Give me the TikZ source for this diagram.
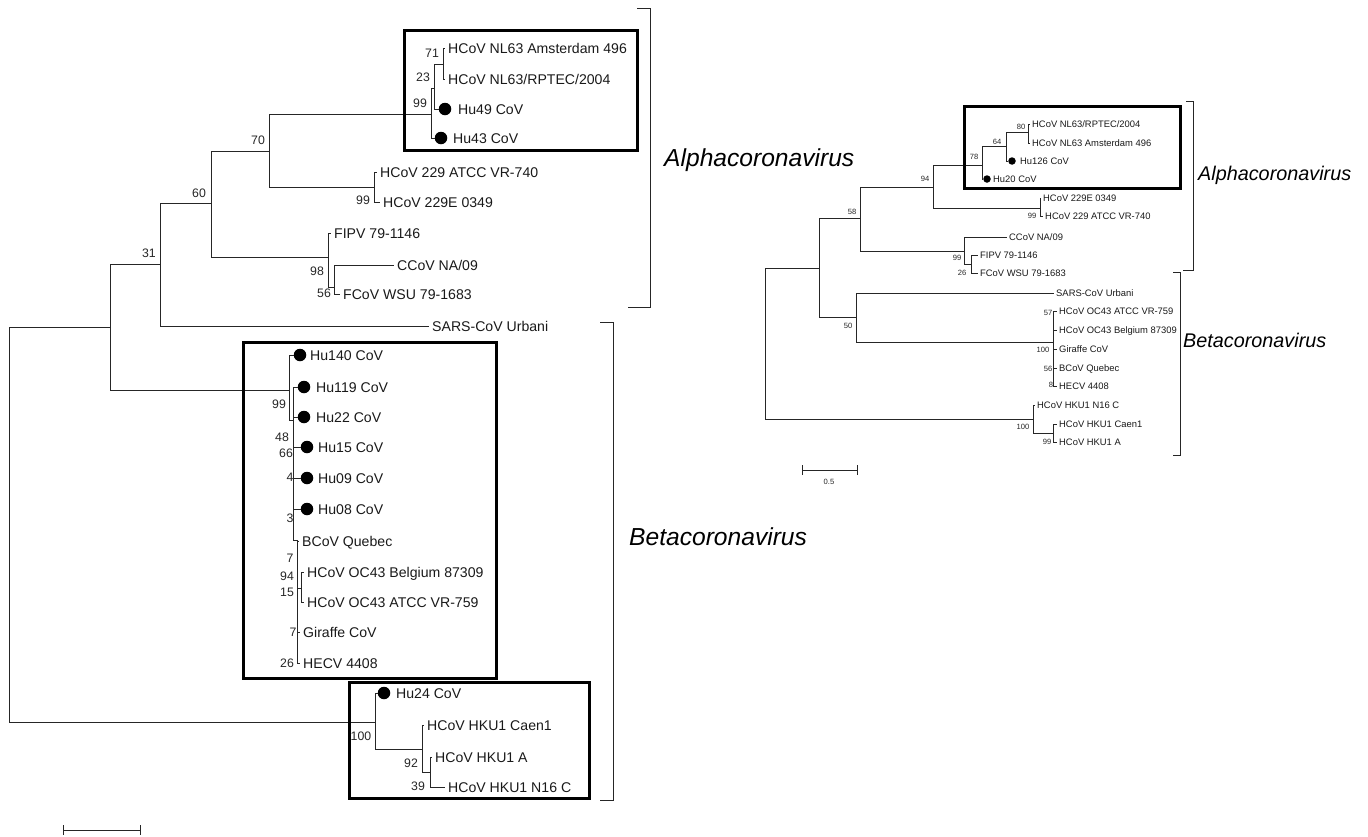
\documentclass[tikz,border=0pt]{standalone}
\usepackage{fontspec}
\setmainfont{Liberation Sans}
\begin{document}
\begin{tikzpicture}[x=1pt,y=-1pt,
  br/.style={line width=1pt, draw=black!85},
  box/.style={line width=3pt, draw=black},
  brk/.style={line width=1pt, draw=black!85},
  lf/.style={anchor=west, inner xsep=3pt, inner ysep=0pt, font=\fontsize{14.1}{16}\selectfont, text height=10.3pt, text depth=0pt, text=black!90},
  dotL/.style={circle, fill=black, inner sep=0pt, minimum size=12.5pt},
  bsL/.style={inner sep=0pt, font=\fontsize{12.3}{14}\selectfont, text height=8.8pt, text depth=0pt, text=black!85},
  lfR/.style={anchor=west, inner xsep=2pt, inner ysep=0pt, font=\fontsize{9.4}{11}\selectfont, text height=6.7pt, text depth=0pt, text=black!90},
  dotR/.style={circle, fill=black, inner sep=0pt, minimum size=7.5pt},
  bsR/.style={inner sep=0pt, font=\fontsize{7.6}{9}\selectfont, text height=5.4pt, text depth=0pt, text=black!85},
  clL/.style={anchor=west, inner sep=0pt, font=\fontsize{24.6}{28}\selectfont\itshape, text height=17.6pt, text depth=0pt},
  clR/.style={anchor=west, inner sep=0pt, font=\fontsize{19.8}{23}\selectfont\itshape, text height=14.2pt, text depth=0pt},
]
\useasboundingbox (0,0) rectangle (1368,836);

% ================= LEFT TREE =================
% internal nodes
\coordinate (R) at (9,524);
\coordinate (N110) at (110,327);
\coordinate (N160) at (160,264);
\coordinate (N211) at (211,203);
\coordinate (N269) at (269,151);
\coordinate (N431) at (431,114);
\coordinate (N434) at (434,88);
\coordinate (N443) at (443,64);
\coordinate (N374) at (374,187);
\coordinate (N328) at (328,257);
\coordinate (N334) at (334,287);
\coordinate (N289) at (289,390);
\coordinate (N293) at (293,420);
\coordinate (N297) at (297,540);
\coordinate (N301) at (301,588);
\coordinate (N375) at (375,722);
\coordinate (N422) at (422,749);
\coordinate (N430) at (430,772);

% leaves
\node[lf] (lAms) at (445,48) {HCoV NL63 Amsterdam 496};
\node[lf] (lRPT) at (445,79) {HCoV NL63/RPTEC/2004};
\node[dotL] (dHu49) at (445,109) {};
\node[lf] (lHu49) at (455,109) {Hu49 CoV};
\node[dotL] (dHu43) at (441,138) {};
\node[lf] (lHu43) at (450,138) {Hu43 CoV};
\node[lf] (l740) at (377,172) {HCoV 229 ATCC VR-740};
\node[lf] (l0349) at (380,202) {HCoV 229E 0349};
\node[lf] (lFIPV) at (331,233) {FIPV 79-1146};
\node[lf] (lCCoV) at (394,265) {CCoV NA/09};
\node[lf] (lFCoV) at (340,294) {FCoV WSU 79-1683};
\node[lf] (lSARS) at (429,326) {SARS-CoV Urbani};
\node[dotL] (dHu140) at (300,355) {};
\node[lf] (lHu140) at (307,355) {Hu140 CoV};
\node[dotL] (dHu119) at (304,387) {};
\node[lf] (lHu119) at (313,387) {Hu119 CoV};
\node[dotL] (dHu22) at (304,417) {};
\node[lf] (lHu22) at (313,417) {Hu22 CoV};
\node[dotL] (dHu15) at (307,447) {};
\node[lf] (lHu15) at (315,447) {Hu15 CoV};
\node[dotL] (dHu09) at (307,478) {};
\node[lf] (lHu09) at (315,478) {Hu09 CoV};
\node[dotL] (dHu08) at (307,509) {};
\node[lf] (lHu08) at (315,509) {Hu08 CoV};
\node[lf] (lBCoV) at (299,541) {BCoV Quebec};
\node[lf] (lBel) at (304,572) {HCoV OC43 Belgium 87309};
\node[lf] (l759) at (304,602) {HCoV OC43 ATCC VR-759};
\node[lf] (lGir) at (300,632) {Giraffe CoV};
\node[lf] (lHECV) at (300,663) {HECV 4408};
\node[dotL] (dHu24) at (384,693) {};
\node[lf] (lHu24) at (393,693) {Hu24 CoV};
\node[lf] (lCaen) at (424,725) {HCoV HKU1 Caen1};
\node[lf] (lHKA) at (432,757) {HCoV HKU1 A};
\node[lf] (lN16) at (445,787) {HCoV HKU1 N16 C};

% branches
\draw[br] (R) |- (N110);
\draw[br] (R) |- (N375);
\draw[br] (N110) |- (N160);
\draw[br] (N110) |- (N289);
\draw[br] (N160) |- (N211);
\draw[br] (N160) |- (lSARS.west);
\draw[br] (N211) |- (N269);
\draw[br] (N211) |- (N328);
\draw[br] (N269) |- (N431);
\draw[br] (N269) |- (N374);
\draw[br] (N431) |- (N434);
\draw[br] (N431) |- (dHu43.west);
\draw[br] (N434) |- (N443);
\draw[br] (N434) |- (dHu49.west);
\draw[br] (N443) |- (lAms.west);
\draw[br] (N443) |- (lRPT.west);
\draw[br] (N374) |- (l740.west);
\draw[br] (N374) |- (l0349.west);
\draw[br] (N328) |- (lFIPV.west);
\draw[br] (N328) |- (N334);
\draw[br] (N334) |- (lCCoV.west);
\draw[br] (N334) |- (lFCoV.west);
\draw[br] (N289) |- (dHu140.west);
\draw[br] (N289) |- (N293);
\draw[br] (N293) |- (dHu119.west);
\draw[br] (N293) |- (dHu22.west);
\draw[br] (N293) |- (dHu15.west);
\draw[br] (N293) |- (dHu09.west);
\draw[br] (N293) |- (dHu08.west);
\draw[br] (N293) |- (N297);
\draw[br] (N297) |- (lBCoV.west);
\draw[br] (N297) |- (N301);
\draw[br] (N297) |- (lGir.west);
\draw[br] (N297) |- (lHECV.west);
\draw[br] (N301) |- (lBel.west);
\draw[br] (N301) |- (l759.west);
\draw[br] (N375) |- (dHu24.west);
\draw[br] (N375) |- (N422);
\draw[br] (N422) |- (lCaen.west);
\draw[br] (N422) |- (N430);
\draw[br] (N430) |- (lHKA.west);
\draw[br] (N430) |- (lN16.west);

% bootstrap values
\node[bsL] (b71) at (432,53) {71};
\node[bsL] (b23) at (423,77) {23};
\node[bsL] (b99a) at (420,103) {99};
\node[bsL] (b70) at (258,140) {70};
\node[bsL] (b60) at (199,193) {60};
\node[bsL] (b31) at (149,253) {31};
\node[bsL] (b99b) at (363,200) {99};
\node[bsL] (b98) at (317,271) {98};
\node[bsL] (b56) at (324,293) {56};
\node[bsL] (b99c) at (279,404) {99};
\node[bsL] (b48) at (282,437) {48};
\node[bsL] (b66) at (286,453) {66};
\node[bsL] (b4) at (290,477) {4};
\node[bsL] (b3) at (290,518) {3};
\node[bsL] (b7a) at (290,558) {7};
\node[bsL] (b94) at (287,576) {94};
\node[bsL] (b15) at (287,592) {15};
\node[bsL] (b7b) at (293,632) {7};
\node[bsL] (b26) at (287,663) {26};
\node[bsL] (b100) at (361,736) {100};
\node[bsL] (b92) at (411,763) {92};
\node[bsL] (b39) at (418,786) {39};

% boxes
\draw[box] (404,30) rectangle (637,150);
\draw[box] (243,342) rectangle (496,678);
\draw[box] (349,682) rectangle (589,798);

% brackets and clade names
\draw[brk] (637,8) -- (650,8) -- (650,307) -- (628,307);
\draw[brk] (600,322) -- (613,322) -- (613,800) -- (600,800);
\node[clL] (cAlphaL) at (664,158) {Alphacoronavirus};
\node[clL] (cBetaL) at (629,537) {Betacoronavirus};

% scale bar
\coordinate (sL1) at (63,830);
\coordinate (sL2) at (140,830);
\draw[br] (sL1) -- (sL2);
\draw[br] (sL1) ++(0,-5) -- ++(0,10);
\draw[br] (sL2) ++(0,-5) -- ++(0,10);

% ================= RIGHT TREE =================
\coordinate (RR) at (765,343);
\coordinate (M819) at (819,268);
\coordinate (M860) at (860,218);
\coordinate (M933) at (933,187);
\coordinate (M982) at (982,165);
\coordinate (M1006) at (1006,146);
\coordinate (M1028) at (1028,132);
\coordinate (M1040) at (1040,208);
\coordinate (M964) at (964,251);
\coordinate (M971) at (971,264);
\coordinate (M856) at (856,317);
\coordinate (M1053) at (1053,342);
\coordinate (M1033) at (1033,419);
\coordinate (M1053b) at (1053,433);

\node[lfR] (rRPT) at (1030,124) {HCoV NL63/RPTEC/2004};
\node[lfR] (rAms) at (1030,143) {HCoV NL63 Amsterdam 496};
\node[dotR] (dHu126) at (1012,161) {};
\node[lfR] (rHu126) at (1018,161) {Hu126 CoV};
\node[dotR] (dHu20) at (987,179) {};
\node[lfR] (rHu20) at (991,179) {Hu20 CoV};
\node[lfR] (r0349) at (1041,198) {HCoV 229E 0349};
\node[lfR] (r740) at (1043,216) {HCoV 229 ATCC VR-740};
\node[lfR] (rCCoV) at (1007,237) {CCoV NA/09};
\node[lfR] (rFIPV) at (978,255) {FIPV 79-1146};
\node[lfR] (rFCoV) at (978,273) {FCoV WSU 79-1683};
\node[lfR] (rSARS) at (1054,293) {SARS-CoV Urbani};
\node[lfR] (r759) at (1057,311) {HCoV OC43 ATCC VR-759};
\node[lfR] (rBel) at (1057,330) {HCoV OC43 Belgium 87309};
\node[lfR] (rGir) at (1057,349) {Giraffe CoV};
\node[lfR] (rBCoV) at (1057,368) {BCoV Quebec};
\node[lfR] (rHECV) at (1057,386) {HECV 4408};
\node[lfR] (rN16) at (1035,405) {HCoV HKU1 N16 C};
\node[lfR] (rCaen) at (1057,424) {HCoV HKU1 Caen1};
\node[lfR] (rHKA) at (1057,442) {HCoV HKU1 A};

\draw[br] (RR) |- (M819);
\draw[br] (RR) |- (M1033);
\draw[br] (M819) |- (M860);
\draw[br] (M819) |- (M856);
\draw[br] (M860) |- (M933);
\draw[br] (M860) |- (M964);
\draw[br] (M933) |- (M982);
\draw[br] (M933) |- (M1040);
\draw[br] (M982) |- (M1006);
\draw[br] (M982) |- (dHu20.west);
\draw[br] (M1006) |- (M1028);
\draw[br] (M1006) |- (dHu126.west);
\draw[br] (M1028) |- (rRPT.west);
\draw[br] (M1028) |- (rAms.west);
\draw[br] (M1040) |- (r0349.west);
\draw[br] (M1040) |- (r740.west);
\draw[br] (M964) |- (rCCoV.west);
\draw[br] (M964) |- (M971);
\draw[br] (M971) |- (rFIPV.west);
\draw[br] (M971) |- (rFCoV.west);
\draw[br] (M856) |- (rSARS.west);
\draw[br] (M856) |- (M1053);
\draw[br] (M1053) |- (r759.west);
\draw[br] (M1053) |- (rBel.west);
\draw[br] (M1053) |- (rGir.west);
\draw[br] (M1053) |- (rBCoV.west);
\draw[br] (M1053) |- (rHECV.west);
\draw[br] (M1033) |- (rN16.west);
\draw[br] (M1033) |- (M1053b);
\draw[br] (M1053b) |- (rCaen.west);
\draw[br] (M1053b) |- (rHKA.west);

\node[bsR] (c80) at (1021,127) {80};
\node[bsR] (c64) at (997,142) {64};
\node[bsR] (c78) at (974,157) {78};
\node[bsR] (c94) at (925,179) {94};
\node[bsR] (c58) at (852,212) {58};
\node[bsR] (c99a) at (1032,216) {99};
\node[bsR] (c99b) at (957,258) {99};
\node[bsR] (c26) at (962,273) {26};
\node[bsR] (c50) at (848,326) {50};
\node[bsR] (c57) at (1048,313) {57};
\node[bsR] (c100a) at (1043,350) {100};
\node[bsR] (c56) at (1048,369) {56};
\node[bsR] (c8) at (1051,385) {8};
\node[bsR] (c100b) at (1023,427) {100};
\node[bsR] (c99c) at (1047,442) {99};

\draw[box] (964,106) rectangle (1180,188);

\draw[brk] (1186,101) -- (1193,101) -- (1193,270) -- (1183,270);
\draw[brk] (1173,272) -- (1180,272) -- (1180,455) -- (1173,455);
\node[clR] (cAlphaR) at (1198,173) {Alphacoronavirus};
\node[clR] (cBetaR) at (1183,340) {Betacoronavirus};

\coordinate (sR1) at (802,470);
\coordinate (sR2) at (857,470);
\draw[br] (sR1) -- (sR2);
\draw[br] (sR1) ++(0,-5) -- ++(0,10);
\draw[br] (sR2) ++(0,-5) -- ++(0,10);
\node[bsR] (sRlab) at (829,482) {0.5};
\end{tikzpicture}
\end{document}
